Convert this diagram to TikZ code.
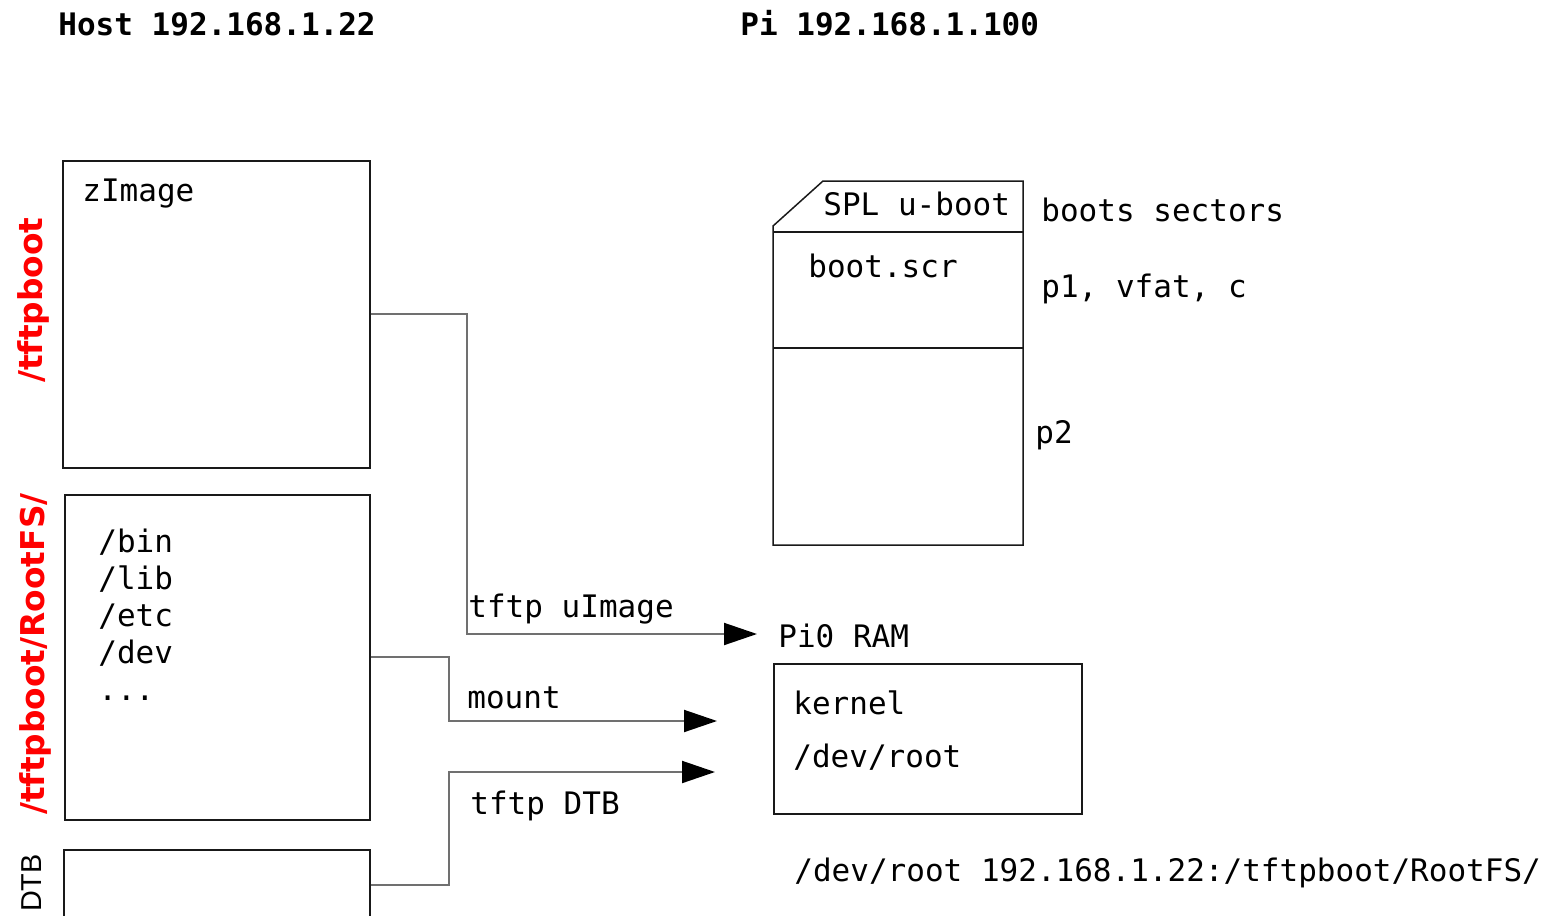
\documentclass[tikz,border=0pt]{standalone}
\usepackage{fontspec}
\setmainfont{DejaVu Sans Mono}
\newfontfamily\dirfont{DejaVu Sans}
\newfontfamily\dtbfont{Liberation Sans}
\usetikzlibrary{arrows.meta}
\definecolor{dirred}{HTML}{FF0000}
\definecolor{wiregray}{HTML}{707070}

\begin{document}
\begin{tikzpicture}[
  x=0.5pt,
  y=-0.5pt,
  every node/.style={font=\fontsize{15.5}{18}\selectfont, inner sep=0pt},
  txt/.style={anchor=base west},
  title/.style={anchor=base west, font=\fontsize{15.5}{18}\selectfont\bfseries},
  dirlabel/.style={rotate=90, text=dirred, font=\dirfont\fontsize{16.4}{18}\selectfont\bfseries},
  outline/.style={draw=black!90, line width=0.75pt},
  filebox/.style={outline, anchor=north west},
  wire/.style={draw=wiregray, line width=1pt},
  feed/.style={wire, -{Triangle[length=16.5pt, width=11pt, color=black]}}
]
  \useasboundingbox (0,0) rectangle (1549,916);

  % headings
  \node[title] (hosttitle) at (58,35) {Host 192.168.1.22};
  \node[title] (pititle) at (740,35) {Pi 192.168.1.100};

  % host side
  \node[filebox, minimum width=153.5pt, minimum height=153.5pt] (zimg) at (62,160) {};
  \node[filebox, minimum width=152.5pt, minimum height=162.5pt] (rootfs) at (64,494) {};
  \node[filebox, minimum width=153pt, minimum height=35pt] (dtb) at (63,849) {};

  \node[txt] (zimgtext) at (82,201) {zImage};
  \foreach \entry [count=\i] in {/bin,/lib,/etc,/dev}
    \node[txt] (fs\i) at (98,{515+37*\i}) {\entry};
  \node[txt] (fsmore) at (98,700) {...};

  \node[dirlabel] (tftpdir) at (33,300) {/tftpboot};
  \node[dirlabel] (rootdir) at (35,654) {/tftpboot/RootFS/};
  \node[rotate=90, font=\dtbfont\fontsize{14.4}{16}\selectfont] (dtbdir) at (32,883) {DTB};

  % pi side
  \draw[outline] (823,181) -- (1023,181) -- (1023,545) -- (773,545) -- (773,226) -- cycle;
  \draw[outline] (773,232) -- (1023,232);
  \draw[outline] (773,348) -- (1023,348);

  \node[txt] (spl) at (823,215) {SPL u-boot};
  \node[txt] (bootscr) at (808,277) {boot.scr};
  \node[txt] (sectors) at (1041,221) {boots sectors};
  \node[txt] (part1) at (1041,297) {p1, vfat, c};
  \node[txt] (part2) at (1035,443) {p2};

  \node[txt] (ramtitle) at (778,647) {Pi0 RAM};
  \node[filebox, minimum width=154pt, minimum height=75pt] (ram) at (773,663) {};
  \node[txt] (kernel) at (793,714) {kernel};
  \node[txt] (devroot) at (793,767) {/dev/root};
  \node[txt] (bootarg) at (794,881) {/dev/root 192.168.1.22:/tftpboot/RootFS/};

  % transfers
  \coordinate (uimgtip) at (757,634);
  \coordinate (mounttip) at (717,721);
  \coordinate (dtbtip) at (715,772);
  \draw[feed] (zimg.east) -- ++(96,0) |- (uimgtip);
  \draw[feed] (rootfs.east) -- ++(78,0) |- (mounttip);
  \draw[feed] (dtb.east) -- ++(78,0) |- (dtbtip);

  \node[txt] (uimglabel) at (468,617) {tftp uImage};
  \node[txt] (mountlabel) at (467,708) {mount};
  \node[txt] (dtblabel) at (470,814) {tftp DTB};
\end{tikzpicture}
\end{document}
